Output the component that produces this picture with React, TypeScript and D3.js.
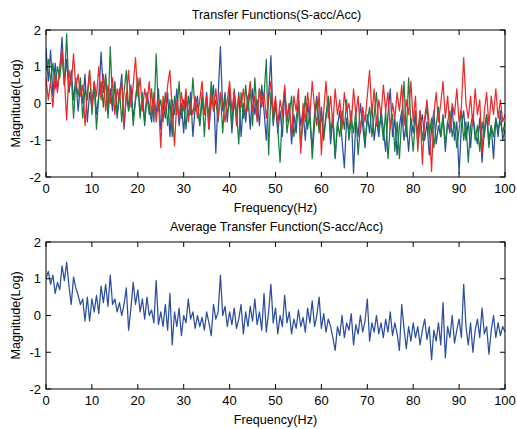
import React from "react";
import * as d3 from "d3";

// Transfer function magnitudes (log), sampled every 0.5 Hz from 0 to 100 Hz
const blueSeries = [
  1.5, 0.6, 1.45, 0.2, 1.1, 0.4, 0.9, 1.8, 0.5, 1.2, 0.3, 0.9, 0.1, 0.7, -0.2, 0.5, 0.0, 0.8, -0.5, 0.3,
  -0.1, 0.6, -0.3, 0.2, 1.4, 0.3, 0.7, -0.3, 0.4, -0.2, 0.6, -0.4, 0.2, 0.8, -0.7, 0.3, -0.2, 0.5, -0.4, 0.1,
  0.6, -0.3, 0.2, -0.6, 0.3, -0.1, -0.5, 0.2, -0.3, 0.4, -0.7, 0.0, -0.4, 0.3, -0.9, 0.1, -0.3, 0.4, -0.6, 0.0,
  -0.8, 0.2, -0.4, 0.3, -0.9, -0.1, 0.2, -0.6, 0.1, -0.3, 0.3, -0.7, 0.0, 0.5, -1.35, 0.2, 1.55, -0.2, 0.3, -0.5,
  0.4, -0.8, 0.1, -0.4, 0.3, -0.9, 0.0, -0.5, 0.2, -0.7, 0.4, -0.3, 0.1, -0.6, 0.5, -0.2, -1.0, 0.2, 1.3, -0.6,
  0.0, -0.8, -0.2, -0.9, 0.3, -0.5, 0.0, -1.1, -0.3, -0.8, 0.1, -0.6, -0.2, -1.0, 0.0, -0.5, -1.2, -0.3, 0.2, -0.7,
  -0.1, -0.9, -0.3, 0.1, -1.1, -0.4, -1.5, -0.6, -0.2, -1.0, -1.75, -0.4, -0.8, -0.2, -1.9, -0.5, -0.9, 0.0, -0.6, -1.2,
  -0.3, -0.8, 0.0, -1.0, -0.4, -0.9, -0.2, -0.7, -1.3, -0.3, 0.4, -0.9, -0.4, -1.4, -0.6, -0.2, -1.0, -0.5, -1.3, -0.4,
  -0.8, -0.2, -1.1, -0.6, -0.3, -1.0, -0.5, -1.4, -0.7, -0.2, -1.1, -0.6, -0.9, -0.3, -1.3, -0.5, -0.8, -0.1, -1.0, -0.5,
  -1.9, -0.6, -0.2, -1.0, -0.5, -1.2, -0.3, -0.8, -1.1, -0.4, -1.6, -0.7, -0.3, -1.0, -0.6, -1.5, -0.4, -0.9, -0.2, -1.0,
  -0.7,
];

const greenSeries = [
  0.9, 1.2, 0.6, 1.1, 0.4, 1.0, 0.7, 1.3, 0.5, 1.9, 0.3, 0.8, -0.4, 0.6, 0.2, 0.7, -0.4, 0.4, 0.1, 0.9,
  -0.3, 0.5, -0.7, 0.2, 0.6, -0.1, 0.8, -0.4, 1.55, 0.0, 0.5, -0.3, 0.4, -0.5, 0.3, 0.9, -0.2, 0.4, -0.6, 0.1,
  0.7, -0.4, 0.3, -0.5, 0.2, -0.3, 0.4, -0.5, 1.35, -0.2, 0.1, -0.5, 0.3, -0.6, 0.1, -0.9, 0.2, -0.3, 0.6, -0.4,
  0.1, -0.7, 0.2, -0.3, 0.7, -0.2, 0.0, -0.6, 0.3, -0.9, 0.2, -0.4, 0.6, -0.2, 0.1, -0.5, 0.3, -0.8, 0.2, -0.3,
  0.1, -0.6, 0.4, -0.2, -1.1, 0.3, -0.4, 0.5, -0.2, 0.4, -0.6, 0.7, -0.3, 0.4, 0.1, 0.2, 1.2, -1.4, 0.3, -0.5,
  0.1, -0.7, -1.6, -0.2, 0.4, -0.8, -0.3, 0.2, -0.9, -0.4, 0.0, -1.2, -0.5, 0.2, -0.7, -0.2, -1.5, -0.6, 0.1, -0.8,
  -0.3, -1.0, -0.4, 0.2, -0.8, -0.3, -1.45, -0.5, -0.9, -0.2, -0.7, 0.1, -1.0, -0.4, -0.8, -0.2, -1.4, -0.6, -0.3, -1.0,
  -0.5, -0.1, -0.9, -0.3, 0.3, -0.7, -0.4, -1.0, -0.2, -1.5, -0.6, -0.3, -1.3, -0.5, -1.5, -0.4, 0.6, -0.9, 0.7, -0.6,
  -1.3, -0.4, -0.8, -0.2, -1.0, -0.5, -0.1, -0.9, -0.4, -1.2, -0.6, -0.1, -0.9, -0.4, -1.1, -0.5, -0.2, -0.9, -0.5, -1.2,
  -0.7, -0.2, -1.0, -0.5, -1.6, -0.6, -0.3, -1.0, -0.6, -1.3, -0.5, -0.9, -0.3, -1.2, -0.6, -0.9, -0.4, -0.7, -0.5, -0.8,
  -0.5,
];

const redSeries = [
  0.7, 0.1, 0.6, -0.1, 0.8, 0.3, 1.0, 1.45, 0.7, -0.45, 0.9, 0.5, 1.35, 0.4, 0.8, 0.2, 0.5, -0.6, 0.3, 0.9,
  -0.1, 0.6, 0.2, 1.0, 0.1, 0.8, -0.2, 0.5, 0.0, 0.7, -0.3, 0.4, 0.1, 0.6, -0.6, 0.2, 0.9, -0.1, 0.5, 1.25,
  0.2, 0.7, -0.2, 0.4, 0.0, 0.6, -0.3, 0.3, -0.5, 0.1, -1.2, 0.2, -0.3, 0.5, 0.9, -0.2, -1.15, 0.1, -0.4, 0.3,
  -0.2, 0.4, -0.5, 0.0, -0.3, 0.2, -0.4, 0.1, 0.6, -0.3, 0.2, -0.7, 0.3, -0.2, 0.4, -0.4, 0.3, 0.0, -0.5, 0.1,
  0.6, -0.2, 0.3, -0.6, 0.2, -0.1, 0.4, -0.3, 0.1, 0.6, -0.2, 0.2, -0.5, 0.4, -0.1, 0.3, -0.4, 0.1, 0.6, -0.3,
  0.2, -0.6, 0.1, -0.3, 0.5, -0.4, 0.0, -0.9, 0.2, -0.2, 0.4, -1.35, 0.0, -0.5, 0.3, -0.3, 0.6, -0.1, -0.6, 0.3,
  -1.4, -0.2, 0.6, -0.4, 0.2, -0.6, 0.4, -0.3, 0.1, -0.7, 0.3, -0.2, 0.0, -0.6, 0.4, -0.3, 0.2, -0.8, -0.1, -0.5,
  0.2, 0.9, -0.3, 0.4, -0.6, 0.1, -0.3, 0.5, -0.2, 0.3, -0.7, 0.0, -0.4, 0.3, -0.2, 0.5, -0.6, 0.1, -0.3, 0.6,
  -0.5, 0.2, -1.3, -0.2, -1.65, -0.4, 0.1, -0.6, -1.85, -0.3, 0.3, -0.5, 0.0, 0.6, -0.4, 0.2, -0.7, 0.0, -0.3, 0.4,
  -0.5, -0.1, 1.25, 0.0, -0.4, 0.2, -0.6, 0.4, -0.3, 0.1, -1.35, -0.2, 0.3, -0.6, 0.2, -0.3, 0.4, -0.4, 0.1, -0.5,
  -0.3,
];

const averageSeries = [
  1.0, 1.2, 0.85, 1.1, 0.6, 0.9, 0.7, 1.35, 0.95, 1.45, 0.8, 0.3, 1.05, 0.75, 0.55, 0.3, 0.45, -0.15, 0.5, -0.15,
  0.45, 0.1, 0.55, 0.05, 0.8, 0.35, 0.85, 0.25, 1.1, 0.3, 0.45, 0.1, 0.35, 0.0, 0.3, 0.75, -0.4, 0.2, 0.9, 0.3,
  0.7, 0.1, 0.45, -0.1, 0.5, 0.0, 0.15, -0.2, 0.95, -0.25, 0.1, -0.3, 0.3, -0.4, 0.6, -0.8, 0.1, -0.3, 0.2, -0.55,
  0.0, -0.2, 0.45, -0.1, 0.1, -0.35, 0.0, -0.3, -0.05, -0.4, 0.1, -0.2, -0.55, 0.3, -0.1, 0.1, 1.1, 0.0, 0.25, -0.3,
  0.1, -0.25, 0.2, -0.35, -0.1, 0.3, -0.5, 0.1, -0.3, 0.25, -0.15, 0.45, -0.25, 0.1, -0.4, 0.6, -0.45, 0.1, 0.85, -0.2,
  0.2, -0.5, 0.0, -0.3, 0.55, -0.2, 0.1, -0.5, -0.1, -0.35, 0.15, -0.3, -0.05, -0.45, 0.2, -0.2, 0.4, -0.3, 0.0, 0.5,
  -0.35, 0.05, -0.45, -0.1, -0.3, -0.6, -0.95, -0.3, -0.55, 0.0, -0.6, -0.2, -0.4, 0.05, -0.8, -0.25, -0.5, 0.0, -0.45, -0.15,
  0.45, -0.7, -0.2, -0.45, 0.0, -0.5, -0.2, -0.6, -0.1, -0.45, 0.1, -0.55, -0.2, -0.5, -0.95, 0.3, -0.35, -0.9, -0.3, -0.7,
  -0.2, -0.6, -0.3, -0.8, -0.4, -0.1, -0.65, -0.3, -1.2, -0.4, -0.7, -0.2, -0.8, 0.35, -1.15, -0.3, -0.6, 0.0, -0.75, -0.4,
  -0.1, -0.6, 0.85, -0.3, -0.8, -0.2, -1.0, -0.4, -0.1, -0.6, 0.2, -0.5, -0.3, -1.05, -0.4, 0.0, -0.6, -0.2, -0.55, -0.3,
  -0.45,
];

const xTicks = [0, 10, 20, 30, 40, 50, 60, 70, 80, 90, 100];
const yTicks = [-2, -1, 0, 1, 2];

const topTitle = "Transfer Functions(S-acc/Acc)";
const bottomTitle = "Average Transfer Function(S-acc/Acc)";
const xLabel = "Frequency(Hz)";
const yLabel = "Magnitude(Log)";

const BLUE = "#2c4e9f";
const GREEN = "#16803c";
const RED = "#ec2a2c";

const W = 517;
const H = 429;
const left = 46;
const right = 505;
const FONT = "'Liberation Sans', Arial, Helvetica, sans-serif";
const TICK_FS = 13;
const LABEL_FS = 12.6;

type Series = { values: number[]; color: string };

function Panel({
  top,
  bottom,
  title,
  series,
  clipId,
}: {
  top: number;
  bottom: number;
  title: string;
  series: Series[];
  clipId: string;
}) {
  const x = d3.scaleLinear().domain([0, 100]).range([left, right]);
  const y = d3.scaleLinear().domain([-2, 2]).range([bottom, top]);
  const tick = 5;

  const lineFor = (vals: number[]) =>
    d3
      .line<number>()
      .x((_, i) => x((i * 100) / (vals.length - 1)))
      .y((v) => y(v))(vals) || "";

  return (
    <g>
      <defs>
        <clipPath id={clipId}>
          <rect x={left} y={top} width={right - left} height={bottom - top} />
        </clipPath>
      </defs>
      <text
        x={(left + right) / 2 + 1}
        y={top - 11}
        textAnchor="middle"
        fontSize={LABEL_FS}
        fontFamily={FONT}
        fill="#000"
      >
        {title}
      </text>
      <g clipPath={`url(#${clipId})`}>
        {series.map((s, k) => (
          <path
            key={k}
            d={lineFor(s.values)}
            fill="none"
            stroke={s.color}
            strokeWidth={1.25}
            strokeLinejoin="round"
          />
        ))}
      </g>
      <rect
        x={left}
        y={top}
        width={right - left}
        height={bottom - top}
        fill="none"
        stroke="#000"
        strokeWidth={1}
      />
      {xTicks.map((t) => (
        <g key={`x${t}`}>
          <line x1={x(t)} x2={x(t)} y1={bottom} y2={bottom - tick} stroke="#000" />
          <line x1={x(t)} x2={x(t)} y1={top} y2={top + tick} stroke="#000" />
          <text
            x={x(t)}
            y={bottom + 16}
            textAnchor="middle"
            fontSize={TICK_FS}
            fontFamily={FONT}
            fill="#000"
          >
            {t}
          </text>
        </g>
      ))}
      {yTicks.map((t) => (
        <g key={`y${t}`}>
          <line x1={left} x2={left + tick} y1={y(t)} y2={y(t)} stroke="#000" />
          <line x1={right} x2={right - tick} y1={y(t)} y2={y(t)} stroke="#000" />
          <text
            x={left - 5}
            y={y(t) + 4.5}
            textAnchor="end"
            fontSize={TICK_FS}
            fontFamily={FONT}
            fill="#000"
          >
            {t}
          </text>
        </g>
      ))}
      <text
        x={(left + right) / 2}
        y={bottom + 35}
        textAnchor="middle"
        fontSize={LABEL_FS}
        fontFamily={FONT}
        fill="#000"
      >
        {xLabel}
      </text>
      <text
        transform={`translate(20,${(top + bottom) / 2}) rotate(-90)`}
        textAnchor="middle"
        fontSize={LABEL_FS}
        fontFamily={FONT}
        fill="#000"
      >
        {yLabel}
      </text>
    </g>
  );
}

export default function App() {
  return (
    <svg
      width={W}
      height={H}
      style={{ position: "absolute", left: 0, top: 0, background: "#fff" }}
    >
      <rect x={0} y={0} width={W} height={H} fill="#fff" />
      <Panel
        top={30}
        bottom={177}
        title={topTitle}
        clipId="clip-top"
        series={[
          { values: blueSeries, color: BLUE },
          { values: greenSeries, color: GREEN },
          { values: redSeries, color: RED },
        ]}
      />
      <Panel
        top={242}
        bottom={389}
        title={bottomTitle}
        clipId="clip-bottom"
        series={[{ values: averageSeries, color: BLUE }]}
      />
    </svg>
  );
}
